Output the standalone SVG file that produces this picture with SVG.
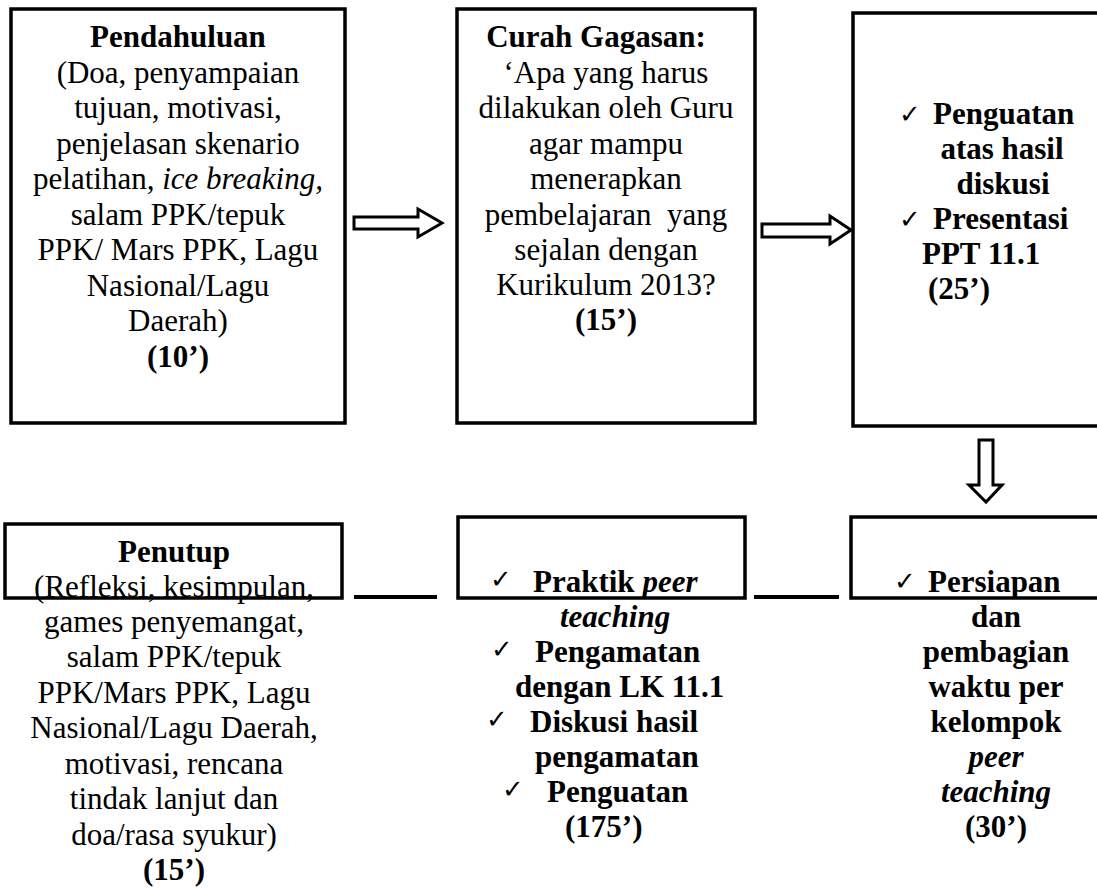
<svg xmlns="http://www.w3.org/2000/svg" width="1097" height="888" viewBox="0 0 1097 888">
<style>
.box{fill:none;stroke:#000;stroke-width:3.5}
.arr{fill:#fff;stroke:#000;stroke-width:3;stroke-linejoin:miter}
.ln{stroke:#000;stroke-width:4}
text{font-family:"Liberation Serif","Times New Roman",serif;font-size:31px;fill:#000}
.c{text-anchor:middle}
.b{font-weight:bold}
.i{font-style:italic}
.ck{font-family:"DejaVu Sans",sans-serif;font-size:26px;font-weight:normal;font-style:normal}
</style>
<rect width="1097" height="888" fill="#fff"/>
<g id="connectors">
<polygon class="arr" points="354,217 418,217 418,209 442,223 418,237 418,229 354,229"/>
<polygon class="arr" points="762,224 830,224 830,216 851,230 830,244 830,237 762,237"/>
<polygon class="arr" points="979,440 993,440 993,485 1002,485 986,502 969,485 979,485"/>
<line class="ln" x1="354" y1="597" x2="437" y2="597"/>
<line class="ln" x1="754" y1="597" x2="839" y2="597"/>
</g>
<g id="pendahuluan">
<rect class="box" x="11" y="9" width="334" height="414"/>
<text class="c b" x="178" y="47">Pendahuluan</text>
<text class="c" x="178" y="83">(Doa, penyampaian</text>
<text class="c" x="178" y="118">tujuan, motivasi,</text>
<text class="c" x="178" y="154">penjelasan skenario</text>
<text class="c" x="178" y="189">pelatihan, <tspan class="i">ice breaking,</tspan></text>
<text class="c" x="178" y="225">salam PPK/tepuk</text>
<text class="c" x="178" y="260">PPK/ Mars PPK, Lagu</text>
<text class="c" x="178" y="296">Nasional/Lagu</text>
<text class="c" x="178" y="331">Daerah)</text>
<text class="c b" x="178" y="367">(10’)</text>
</g>
<g id="curah-gagasan">
<rect class="box" x="457" y="9" width="298" height="414"/>
<text class="c b" x="596" y="47">Curah Gagasan:</text>
<text class="c" x="606" y="83">‘Apa yang harus</text>
<text class="c" x="606" y="118">dilakukan oleh Guru</text>
<text class="c" x="606" y="154">agar mampu</text>
<text class="c" x="606" y="189">menerapkan</text>
<text class="c" x="606" y="225" xml:space="preserve">pembelajaran  yang</text>
<text class="c" x="606" y="260">sejalan dengan</text>
<text class="c" x="606" y="295">Kurikulum 2013?</text>
<text class="c b" x="606" y="330">(15’)</text>
</g>
<g id="penguatan">
<rect class="box" x="853" y="13" width="260" height="413"/>
<text class="ck" x="899" y="123">✓</text>
<text class="b" x="933" y="124">Penguatan</text>
<text class="c b" x="1002" y="159">atas hasil</text>
<text class="c b" x="1003" y="194">diskusi</text>
<text class="ck" x="899" y="228">✓</text>
<text class="b" x="933" y="229">Presentasi</text>
<text class="b" x="922" y="264">PPT 11.1</text>
<text class="b" x="928" y="299">(25’)</text>
</g>
<g id="persiapan">
<rect class="box" x="851" y="517" width="260" height="81"/>
<text class="ck" x="894" y="590">✓</text>
<text class="b" x="928" y="592">Persiapan</text>
<text class="c b" x="996" y="627">dan</text>
<text class="c b" x="996" y="662">pembagian</text>
<text class="c b" x="996" y="697">waktu per</text>
<text class="c b" x="996" y="732">kelompok</text>
<text class="c b i" x="996" y="767">peer</text>
<text class="c b i" x="996" y="802">teaching</text>
<text class="c b" x="996" y="837">(30’)</text>
</g>
<g id="praktik">
<rect class="box" x="458" y="517" width="287" height="81"/>
<text class="ck" x="490" y="588">✓</text>
<text class="b" x="533" y="592">Praktik <tspan class="i">peer</tspan></text>
<text class="b i" x="560" y="627">teaching</text>
<text class="ck" x="491" y="658">✓</text>
<text class="b" x="535" y="662">Pengamatan</text>
<text class="b" x="515" y="697">dengan LK 11.1</text>
<text class="ck" x="486" y="728">✓</text>
<text class="b" x="530" y="732">Diskusi hasil</text>
<text class="b" x="535" y="767">pengamatan</text>
<text class="ck" x="502" y="798">✓</text>
<text class="b" x="547" y="802">Penguatan</text>
<text class="b" x="565" y="837">(175’)</text>
</g>
<g id="penutup">
<rect class="box" x="5" y="524" width="337" height="74"/>
<text class="c b" x="174" y="562">Penutup</text>
<text class="c" x="174" y="597">(Refleksi, kesimpulan,</text>
<text class="c" x="174" y="632">games penyemangat,</text>
<text class="c" x="174" y="667">salam PPK/tepuk</text>
<text class="c" x="174" y="703">PPK/Mars PPK, Lagu</text>
<text class="c" x="174" y="738">Nasional/Lagu Daerah,</text>
<text class="c" x="174" y="774">motivasi, rencana</text>
<text class="c" x="174" y="809">tindak lanjut dan</text>
<text class="c" x="174" y="845">doa/rasa syukur)</text>
<text class="c b" x="174" y="880">(15’)</text>
</g>
</svg>
